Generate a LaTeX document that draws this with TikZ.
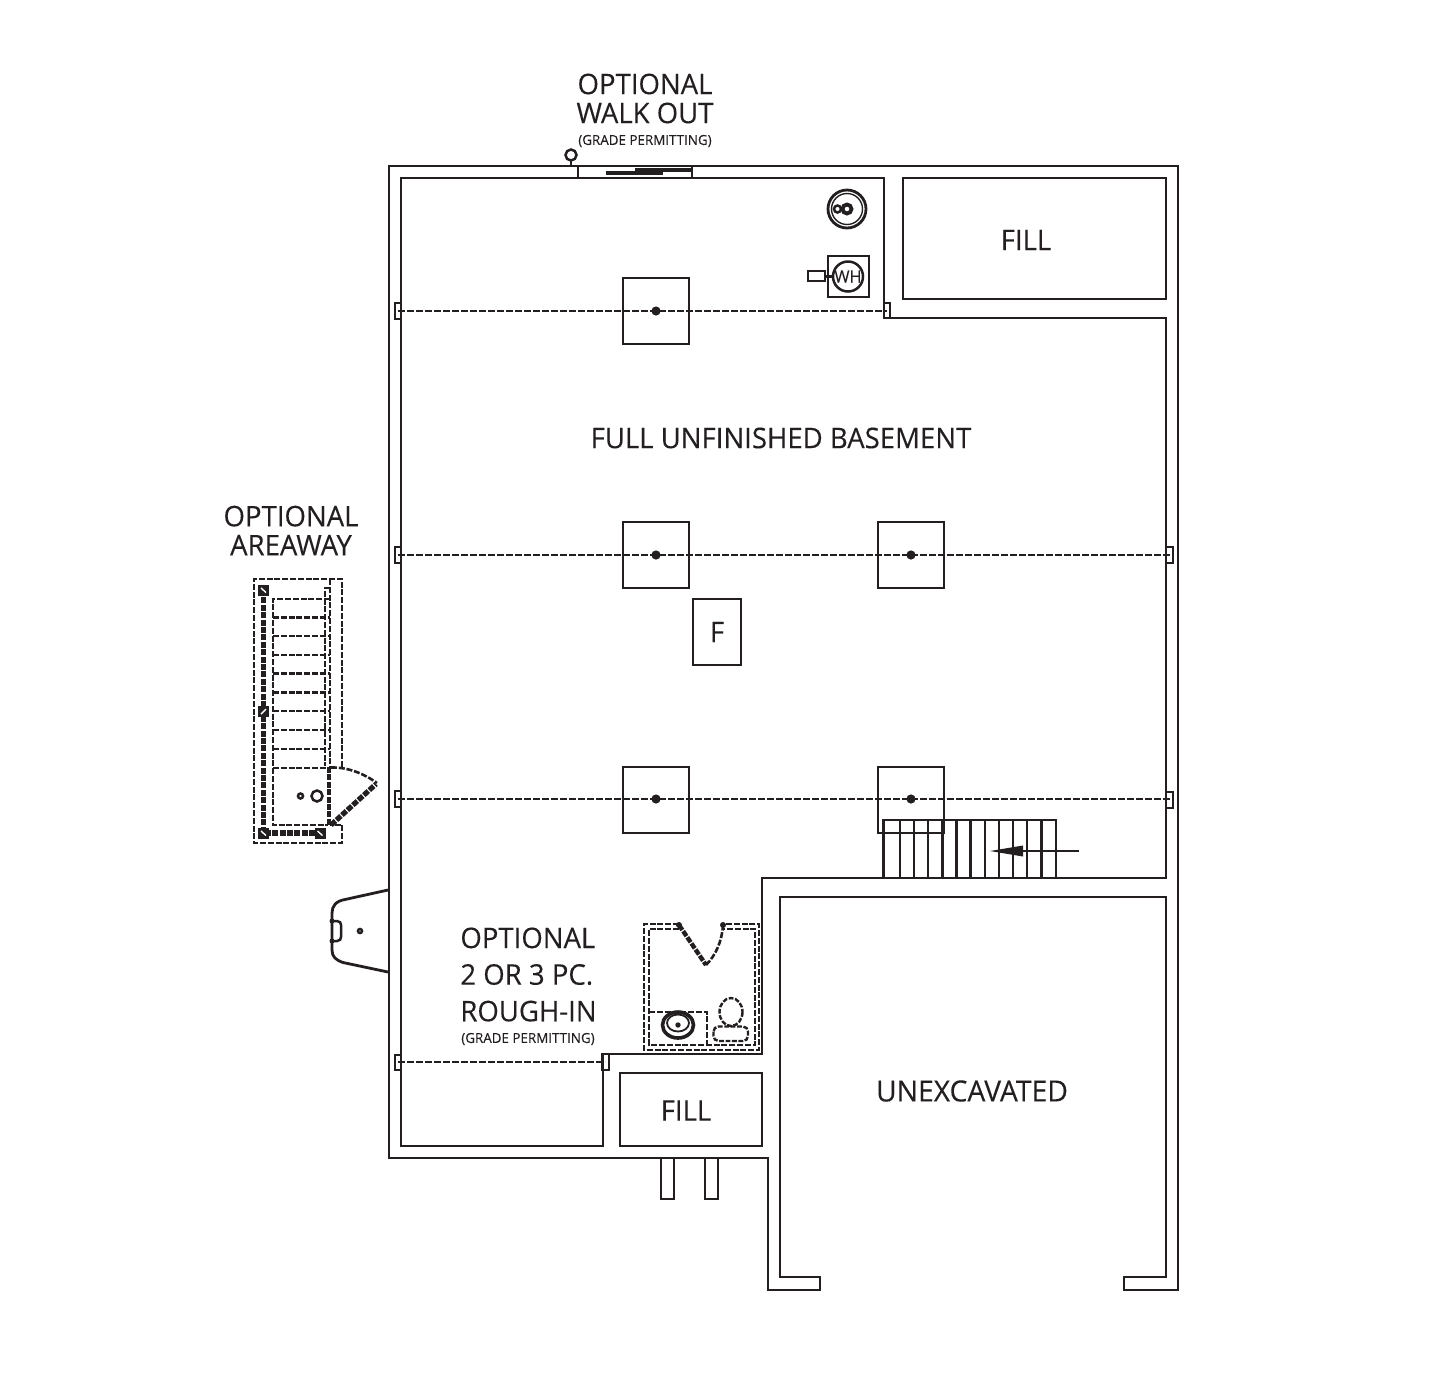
\documentclass[tikz,border=0pt]{standalone}
\usepackage{fontspec}
\setmainfont[FakeStretch=0.97,FakeBold=0.2]{Open Sans}
\definecolor{ink}{HTML}{231F20}
\tikzset{
    outer wall/.style={draw=ink, line width=1.3pt, line join=miter},
    wall/.style={draw=ink, line width=1.4pt, line join=miter},
    thin wall/.style={draw=ink, line width=1.25pt},
    beam/.style={draw=ink, line width=1.3pt, dash pattern=on 3.4pt off 1.1pt},
    rough/.style={draw=ink, line width=1.3pt, dash pattern=on 3pt off 0.9pt},
    heavy/.style={draw=ink, line width=2.6pt, dash pattern=on 3pt off 0.7pt},
    post/.style={draw=ink, fill=ink, line width=1pt},
    label/.style={text=ink, font=\fontsize{14.2}{14.5}\selectfont, inner sep=0pt, align=center},
    small label/.style={text=ink, font=\fontsize{6.9}{8}\selectfont, inner sep=0pt}
}
\begin{document}
\begin{tikzpicture}[x=0.5pt, y=-0.5pt]
    \useasboundingbox (0,0) rectangle (1450,1382);

    % outer foundation wall
    \draw[outer wall] (389,166) -- (1178,166) -- (1178,1290) -- (1124,1290) -- (1124,1277) -- (1166,1277)
        -- (1166,897) -- (780,897) -- (780,1277) -- (820,1277) -- (820,1290) -- (768,1290)
        -- (768,1158) -- (389,1158) -- cycle;

    % basement inner wall
    \draw[wall] (401,178) -- (884,178) -- (884,318) -- (1166,318) -- (1166,878) -- (762,878)
        -- (762,1054) -- (603,1054) -- (603,1146) -- (401,1146) -- cycle;

    % fill
    \draw[wall] (903,178) rectangle (1166,299);
    \draw[wall] (620,1073) rectangle (762,1146);

    % stubs at rear
    \draw[thin wall] (661,1158) -- (661,1199) -- (674,1199) -- (674,1158);
    \draw[thin wall] (705,1158) -- (705,1199) -- (718,1199) -- (718,1158);

    % walk out
    \draw[wall] (578,166) -- (578,178);
    \draw[wall] (692,166) -- (692,178);
    \draw[draw=ink, line width=2pt] (606,172.5) -- (663,172.5);
    \draw[draw=ink, line width=1.7pt] (635,170) -- (692,170);
    \draw[thin wall] (571,155) circle (5.5);
    \draw[thin wall] (571,160.5) -- (571,166);

    % beams
    \draw[beam] (398,311) -- (887,311);
    \draw[beam] (398,555) -- (1170,555);
    \draw[beam] (398,799) -- (1170,799);
    \draw[beam] (398,1062) -- (605,1062);

    % beam pockets
    \draw[thin wall] (395,303) rectangle (401,319);
    \draw[thin wall] (884,303) rectangle (890,318);
    \draw[thin wall] (395,547) rectangle (401,563);
    \draw[thin wall] (1166,547) rectangle (1173,563);
    \draw[thin wall] (395,791) rectangle (401,807);
    \draw[thin wall] (1166,792) rectangle (1173,808);
    \draw[thin wall] (395,1055) rectangle (401,1070);
    \draw[thin wall] (602,1054) rectangle (609,1070);

    % pads
    \draw[wall] (623,278) rectangle (689,344);
    \draw[wall] (623,522) rectangle (689,588);
    \draw[wall] (878,522) rectangle (944,588);
    \draw[wall] (623,767) rectangle (689,833);
    \draw[wall] (878,767) rectangle (944,833);
    \fill[ink] (656,311) circle (4.6);
    \fill[ink] (656,555) circle (4.6);
    \fill[ink] (911,555) circle (4.6);
    \fill[ink] (656,799) circle (4.6);
    \fill[ink] (911,799) circle (4.6);

    % furnace
    \draw[wall] (693,599) rectangle (741,665);

    % sump
    \draw[wall] (847,209) circle (19);
    \draw[thin wall, line width=0.7pt] (847,209) circle (15.5);
    \draw[draw=ink, line width=1.9pt] (847,209) circle (4.5);
    \draw[thin wall] (837.5,209) circle (3.5);

    % water heater
    \draw[wall] (828,256) rectangle (869,297);
    \draw[thin wall] (848,276.5) circle (15);
    \draw[thin wall] (808,271) rectangle (825,281);
    \draw[thin wall] (825,276.5) -- (833,276.5);
    \node[text=ink, font=\fontsize{8.4}{9}\selectfont, inner sep=0pt] (wh) at (848,276.5) {WH};

    % stairs
    \draw[thin wall] (883.5,820) rectangle (1056,878);
    \draw[thin wall] (900,820) -- (900,878);
    \draw[thin wall] (914,820) -- (914,878);
    \draw[thin wall] (928,820) -- (928,878);
    \draw[thin wall] (942.5,820) -- (942.5,878);
    \draw[thin wall] (956.5,820) -- (956.5,878);
    \draw[thin wall] (970.5,820) -- (970.5,878);
    \draw[thin wall] (985,820) -- (985,878);
    \draw[thin wall] (999,820) -- (999,878);
    \draw[thin wall] (1013,820) -- (1013,878);
    \draw[thin wall] (1027,820) -- (1027,878);
    \draw[thin wall] (1041.5,820) -- (1041.5,878);
    \draw[thin wall] (1079,851) -- (1020,851);
    \fill[ink] (990,851) -- (1023,845.5) -- (1023,856.5) -- cycle;

    % bulkhead window
    \draw[wall] (388,890) -- (345,899.5) .. controls (336,901) and (332,906) .. (332,913)
        -- (332,950) .. controls (332,957) and (336,960) .. (343,962.5) -- (388,972);
    \draw[thin wall] (332,921) -- (337,921) .. controls (340,921) and (341,923) .. (341,925)
        -- (341,937) .. controls (341,939) and (340,941) .. (337,941) -- (332,941);
    \fill[ink] (332,921) circle (2.5);
    \fill[ink] (332,941) circle (2.5);
    \draw[thin wall] (360,931) circle (2);

    % areaway
    \draw[rough] (342,767) -- (342,579) -- (254,579) -- (254,843) -- (342,843) -- (342,825) -- (330,825);
    \draw[rough] (330,579) -- (330,767);
    \draw[rough] (330,588) -- (325,588) -- (325,766);
    \draw[rough] (330,599) -- (273,599) -- (273,825) -- (328,825);
    \draw[rough] (273,617.5) -- (330,617.5);
    \draw[rough] (273,636) -- (330,636);
    \draw[rough] (273,655) -- (330,655);
    \draw[rough] (273,673.5) -- (330,673.5);
    \draw[rough] (273,692.5) -- (330,692.5);
    \draw[rough] (273,711) -- (330,711);
    \draw[rough] (273,730) -- (330,730);
    \draw[rough] (273,749) -- (330,749);
    \draw[rough] (273,768) -- (330,768);
    \draw[heavy] (263.5,590) -- (263.5,833) -- (320,833);
    \draw[heavy, line width=1.8pt] (329,767) -- (329,825);
    \draw[heavy] (331,825) -- (376,784);
    \draw[rough] (331,767.5) .. controls (347,767) and (363,773) .. (377,783);
    \draw[post] (259,585.5) rectangle (268,594.5);
    \draw[white, line width=0.7pt] (261,588) -- (266,592.5);
    \draw[post] (259,707) rectangle (268,716);
    \draw[white, line width=0.7pt] (261,714) -- (266,709);
    \draw[post] (259,828.5) rectangle (268,837.5);
    \draw[white, line width=0.7pt] (261,831) -- (266,835.5);
    \draw[post] (315.5,828.5) rectangle (324.5,837.5);
    \draw[white, line width=0.7pt] (317.5,831) -- (322.5,835.5);
    \draw[thin wall] (317,796) circle (5.5);
    \draw[thin wall] (300.5,796) circle (2.5);

    % rough-in
    \draw[rough] (679,924) -- (644,924) -- (644,1050) -- (759,1050) -- (759,924) -- (723,924);
    \draw[rough] (679,929) -- (649,929) -- (649,1045) -- (755,1045) -- (755,929) -- (723,929);
    \draw[rough] (649,1012) -- (707,1012) -- (707,1045);
    \draw[heavy, line width=2.2pt] (679,925) -- (706,965);
    \draw[rough] (706,965) .. controls (716,955) and (722,941) .. (723,925);
    \fill[ink] (679,925) circle (3);
    \fill[ink] (723,925) circle (3);
    \draw[draw=ink, line width=1.8pt] (678,1025) ellipse (15.5 and 13);
    \draw[thin wall, line width=0.9pt] (678,1023) ellipse (11 and 8.5);
    \fill[ink] (678,1025) circle (2.7);
    \draw[rough, line width=1.2pt, dash pattern=on 2.4pt off 0.8pt] (731,1012) ellipse (11.5 and 14);
    \draw[rough, line width=1.2pt, dash pattern=on 2.4pt off 0.8pt, rounded corners=2.5pt] (713.5,1026.5) rectangle (748,1041);

    % labels
    \node[label] (walkout) at (645,98.5) {OPTIONAL\\WALK OUT};
    \node[small label] (walkoutnote) at (645,141) {(GRADE PERMITTING)};
    \node[label] (areaway) at (291,530.5) {OPTIONAL\\AREAWAY};
    \node[label] (fillone) at (1026,240) {FILL};
    \node[label] (filltwo) at (686,1110.5) {FILL};
    \node[label] (basement) at (781,438) {FULL UNFINISHED BASEMENT};
    \node[label] (furnace) at (717,632) {F};
    \node[label, font=\fontsize{14.6}{14.5}\selectfont] (unexcavated) at (972,1091) {UNEXCAVATED};
    \node[label, align=left, anchor=west, font=\fontsize{14.2}{18.3}\selectfont] (roughin) at (460,974.5) {OPTIONAL\\2 OR 3 PC.\\ROUGH-IN};
    \node[small label] (roughinnote) at (528,1039) {(GRADE PERMITTING)};
\end{tikzpicture}
\end{document}
